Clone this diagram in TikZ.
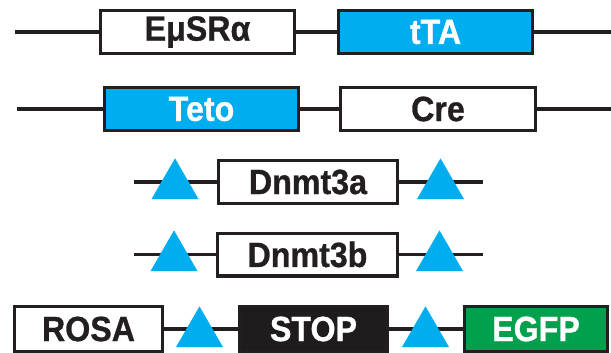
\documentclass[tikz,border=0pt]{standalone}
\usepackage{fontspec}
\setmainfont{Liberation Sans}[FakeStretch=0.92, BoldFeatures={FakeBold=0.8}]
\usetikzlibrary{positioning}
\usetikzlibrary{shapes.geometric}
\definecolor{tetblue}{RGB}{0,174,239}
\definecolor{gfpgreen}{RGB}{0,160,76}
\definecolor{stopblack}{RGB}{30,28,28}
\definecolor{ink}{RGB}{35,31,32}

\begin{document}
\begin{tikzpicture}[x=1pt, y=-1pt, line width=3.2pt,
    every node/.style={font=\fontsize{35}{35}\selectfont\bfseries},
    gene/.style={draw=ink, fill=white, text=ink, inner sep=0pt, minimum height=42.8pt},
    loxp/.style={regular polygon, regular polygon sides=3, fill=tetblue, inner sep=0pt, minimum size=54.3pt}]
    \useasboundingbox (0,0) rectangle (611,353);

    \node[gene, minimum width=193.8pt] (esr) at (197.5,32) {EμSRα};
    \node[gene, fill=tetblue, text=white, minimum width=193.8pt] (tta) at (435.5,32) {tTA};
    \coordinate (l1) at (15,32);
    \coordinate (r1) at (611,32);

    \node[gene, fill=tetblue, text=white, minimum width=193.8pt] (teto) at (201.5,109) {Teto};
    \node[gene, minimum width=194.8pt] (cre) at (438,109) {Cre};
    \coordinate (l2) at (17,109);
    \coordinate (r2) at (611,109);

    \node[gene, minimum width=178.8pt] (dnmta) at (308,182) {Dnmt3a};
    \coordinate (l3) at (134,182);
    \coordinate (r3) at (483,182);

    \node[gene, minimum width=179.8pt] (dnmtb) at (307.5,254.5) {Dnmt3b};
    \coordinate (l4) at (134,254.5);
    \coordinate (r4) at (483,254.5);

    \node[gene, minimum width=147.8pt, minimum height=44.8pt] (rosa) at (88.5,329) {ROSA};
    \node[gene, fill=stopblack, text=white, minimum width=147.8pt, minimum height=44.8pt] (stop) at (313.5,329) {STOP};
    \node[gene, fill=gfpgreen, text=white, minimum width=142.8pt, minimum height=44.8pt] (egfp) at (536,329) {EGFP};

    \draw[ink] (l1) -- (esr) -- (tta) -- (r1);
    \draw[ink] (l2) -- (teto) -- (cre) -- (r2);
    \draw[ink] (l3) -- (dnmta) -- (r3);
    \draw[ink] (l4) -- (dnmtb) -- (r4);
    \draw[ink] (rosa) -- (stop) -- (egfp);

    \foreach \n/\x/\y in {loxa1/175/185.5, loxa2/440.5/185.5, loxb1/174/257.5, loxb2/439.5/257.5,
                          loxc1/199.5/333.5, loxc2/425.5/333.5} {
        \node[loxp] (\n) at (\x,\y) {};
    }
\end{tikzpicture}
\end{document}
